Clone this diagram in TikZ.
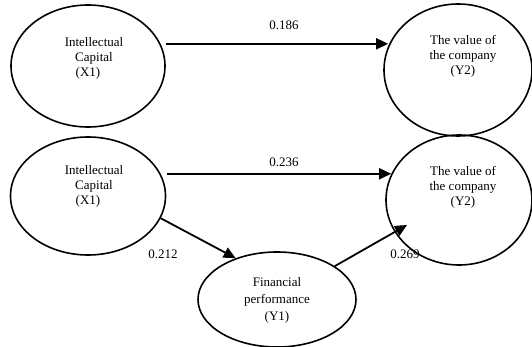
\documentclass[tikz,border=0pt]{standalone}
\usepackage{fontspec}
\setmainfont{Liberation Serif}
\usetikzlibrary{shapes.geometric,arrows.meta}
\begin{document}
\begin{tikzpicture}[x=1pt,y=-1pt,
  latent/.style={draw=black, line width=1.6pt, ellipse, inner sep=0pt},
  txt/.style={align=center, font=\fontsize{13}{15}\selectfont, inner sep=0pt},
  lbl/.style={font=\fontsize{13}{15}\selectfont, inner sep=0pt},
  arr/.style={draw=black, line width=1.8pt, -{Triangle[length=12pt,width=11pt]}}]
\useasboundingbox (0,0) rectangle (532,347);
% ellipses
\node[latent, minimum width=154pt, minimum height=122pt] (x1a) at (88,66) {};
\node[latent, minimum width=148pt, minimum height=132pt] (y2a) at (458,70) {};
\node[latent, minimum width=155pt, minimum height=118pt] (x1b) at (88,196) {};
\node[latent, minimum width=146pt, minimum height=130pt] (y2b) at (459,200) {};
\node[latent, minimum width=158pt, minimum height=95pt] (y1) at (277,299.5) {};
% texts
\node[txt] (x1at) at (94,58.5) {Intellectual\\Capital\\\hspace*{-12pt}(X1)};
\node[txt] (y2at) at (463,56.5) {The value of\\the company\\(Y2)};
\node[txt] (x1bt) at (94,186) {Intellectual\\Capital\\\hspace*{-12pt}(X1)};
\node[txt] (y2bt) at (463,187) {The value of\\the company\\(Y2)};
\node[txt, font=\fontsize{13}{17}\selectfont] (y1t) at (277,300) {Financial\\performance\\(Y1)};
% connectors
\draw[arr] ([xshift=5pt]x1a.17) -- ([xshift=5pt]x1a.17 -| y2a.west);
\draw[arr] ([xshift=6pt]x1b.17) -- ([xshift=6pt]x1b.17 -| y2b.west);
\draw[arr] (x1b.-17.5) -- (y1.135);
\draw[arr] (y1.30) -- ([shift={(-52,25)}]y2b.center);
% labels
\node[lbl] (l1) at (284,25.5) {0.186};
\node[lbl] (l2) at (284,162) {0.236};
\node[lbl] (l3) at (163,254) {0.212};
\node[lbl] (l4) at (405,254) {0.269};
\end{tikzpicture}
\end{document}
